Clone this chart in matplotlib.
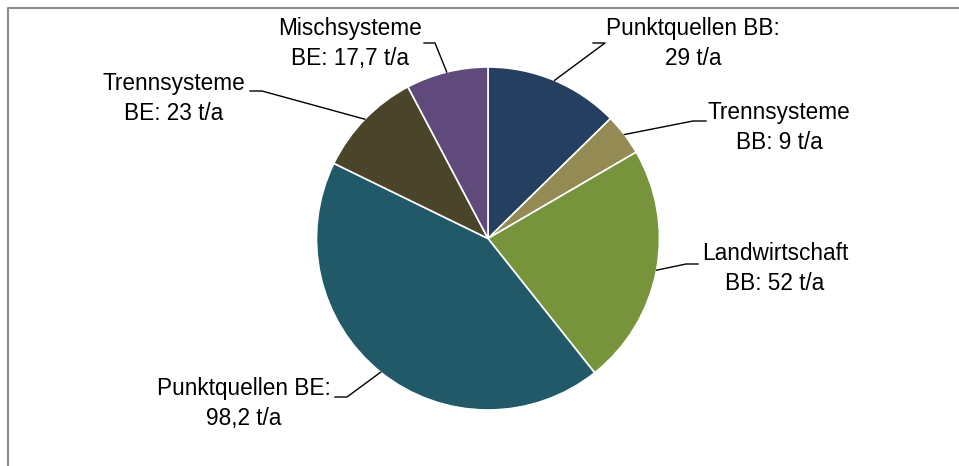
import matplotlib.pyplot as plt
import numpy as np

# Data
labels = ['Punktquellen BB:\n29 t/a', 'Trennsysteme\nBB: 9 t/a', 'Landwirtschaft\nBB: 52 t/a',
          'Punktquellen BE:\n98,2 t/a', 'Trennsysteme\nBE: 23 t/a', 'Mischsysteme\nBE: 17,7 t/a']
values = [29, 9, 52, 98.2, 23, 17.7]
colors = ['#243F60', '#948A54', '#77933C', '#215968', '#4A452A', '#604A7B']

# label placement (pixel coords, y from top) and leader elbows
text_pos = [(693, 43.5), (779, 127.5), (775, 268.5), (244, 403.5), (174, 98.5), (350, 43.5)]
elbows = [((593, 43), (605, 43)), ((706, 121), (693, 121)), ((698, 264), (686, 264)),
          ((335, 397), (347, 397)), ((250, 91), (262, 91)), ((424, 43), (435, 43))]

W, H = 959, 466
fig = plt.figure(figsize=(W / 100, H / 100), dpi=100)
ax = fig.add_axes([0, 0, 1, 1])

cx, cy, r = 488, H - 238.5, 171.5
wedges, _ = ax.pie(values, colors=colors, startangle=90, counterclock=False,
                   center=(cx, cy), radius=r, frame=True,
                   wedgeprops=dict(edgecolor='white', linewidth=1.2))
ax.set_xlim(0, W)
ax.set_ylim(0, H)
ax.set_aspect('auto')
ax.axis('off')

font = ['Liberation Sans', 'DejaVu Sans']
for w, lab, (tx, ty), (p0, p1) in zip(wedges, labels, text_pos, elbows):
    mid = np.deg2rad((w.theta1 + w.theta2) / 2)
    ex, ey = cx + r * np.cos(mid), cy + r * np.sin(mid)
    ax.plot([p0[0], p1[0], ex], [H - p0[1], H - p1[1], ey], color='black', lw=1)
    ax.text(tx, H - ty, lab, ha='center', va='center', multialignment='center',
            fontsize=16.3, family=font, linespacing=1.35)

# border on top and left
ax.plot([7.5, 7.5, W], [0, H - 8, H - 8], color='#8c8c8c', lw=1.5, clip_on=False)

fig.savefig('out.png', dpi=100)
